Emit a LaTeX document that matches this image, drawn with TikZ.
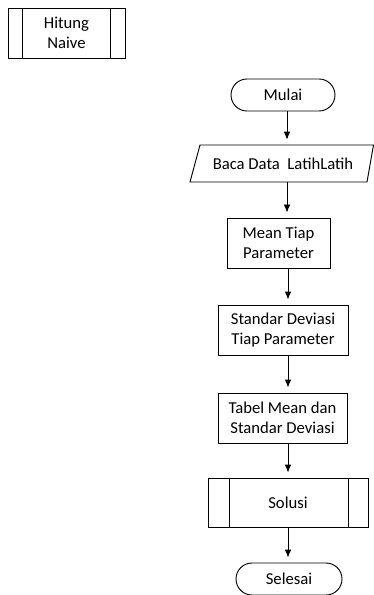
\documentclass[tikz,border=0pt]{standalone}
\usepackage{fontspec}
\setmainfont{Carlito}
\usetikzlibrary{arrows.meta,shapes.misc}

\begin{document}
\begin{tikzpicture}[x=0.75pt,y=-0.75pt,
  every node/.style={font=\fontsize{12.5pt}{15pt}\selectfont,align=center,inner sep=0pt},
  procbox/.style={draw,line width=0.7pt,rectangle},
  termbox/.style={draw,line width=0.7pt,rounded rectangle},
  flow/.style={line width=0.7pt,-{Latex[length=6pt,width=5pt]},shorten >=3.75pt}
]
\useasboundingbox (0,0) rectangle (374,595);

% Subprocess label box (top left)
\node[procbox,minimum width=0.75*117pt,minimum height=0.75*50pt] (hitung) at (66.5,33) {Hitung\\Naive};
\draw[line width=0.7pt] ([xshift=0.75*15pt]hitung.north west) -- ([xshift=0.75*15pt]hitung.south west);
\draw[line width=0.7pt] ([xshift=-0.75*15pt]hitung.north east) -- ([xshift=-0.75*15pt]hitung.south east);

% Main flow
\node[termbox,minimum width=0.75*104pt,minimum height=0.75*32pt] (mulai) at (283,95) {Mulai};

% Input/output parallelogram
\node[minimum width=0.75*170pt,minimum height=0.75*37pt] (baca) at (283,163.5) {Baca Data\ \ LatihLatih};
\draw[line width=0.7pt] (200,145) -- (373.5,145) -- (367,182) -- (190,182) -- cycle;

\node[procbox,minimum width=0.75*103pt,minimum height=0.75*50pt] (mean) at (278.5,243) {Mean Tiap\\Parameter};
\node[procbox,minimum width=0.75*130pt,minimum height=0.75*50pt] (sd) at (283,330) {Standar Deviasi\\Tiap Parameter};
\node[procbox,minimum width=0.75*129pt,minimum height=0.75*50pt] (tabel) at (282.5,418) {Tabel Mean dan\\Standar Deviasi};

\node[procbox,minimum width=0.75*160pt,minimum height=0.75*49pt] (solusi) at (288,502.5) {Solusi};
\draw[line width=0.7pt] ([xshift=0.75*22pt]solusi.north west) -- ([xshift=0.75*22pt]solusi.south west);
\draw[line width=0.7pt] ([xshift=-0.75*20pt]solusi.north east) -- ([xshift=-0.75*20pt]solusi.south east);

\node[termbox,minimum width=0.75*106pt,minimum height=0.75*32pt] (selesai) at (289,579) {Selesai};

% Connectors along a common vertical
\coordinate (axis) at (288,0);
\draw[flow] (mulai.south -| axis) ++(-1,0) -- ([xshift=-0.75pt]baca.north -| axis);
\draw[flow] (baca.south -| axis) ++(-1,0) -- ([xshift=-0.75pt]mean.north -| axis);
\draw[flow] (mean.south -| axis) -- (sd.north -| axis);
\draw[flow] (sd.south -| axis) -- (tabel.north -| axis);
\draw[flow] (tabel.south -| axis) -- (solusi.north -| axis);
\draw[flow] (solusi.south -| axis) -- (selesai.north -| axis);
\end{tikzpicture}
\end{document}
